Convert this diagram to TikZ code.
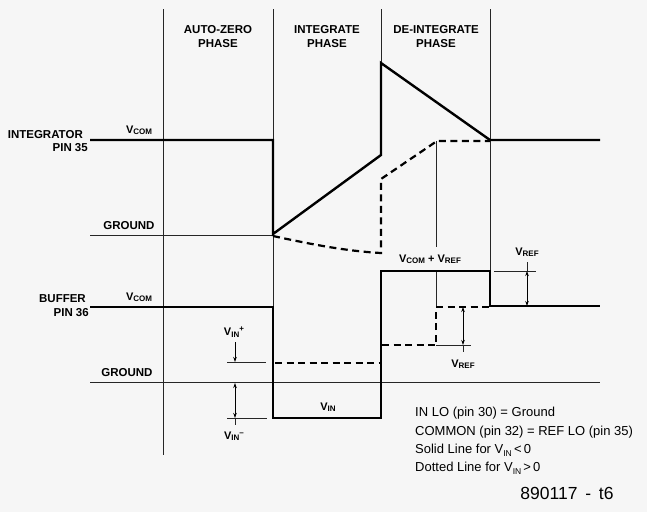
\documentclass[tikz,border=0pt]{standalone}
\usepackage{fontspec}
\setmainfont{Liberation Sans}
\usetikzlibrary{arrows.meta}
\definecolor{bg}{RGB}{246,246,246}
\newcommand{\lowcaps}[1]{\raisebox{-0.25ex}{\fontsize{8}{8}\selectfont #1}}
\newcommand{\notesub}[1]{\raisebox{-0.45ex}{\fontsize{8.5}{8.5}\selectfont #1}}
\begin{document}
\begin{tikzpicture}[x=1pt,y=-1pt,
  phaseline/.style={line width=0.8pt, black!85},
  wave/.style={line width=2.4pt, line join=miter},
  dashwave/.style={line width=2.2pt, dash pattern=on 7pt off 4.5pt},
  lbl/.style={font=\fontsize{11.5}{14}\selectfont\bfseries, inner sep=0pt},
  vlbl/.style={font=\fontsize{11}{13}\selectfont\bfseries, inner sep=0pt},
  note/.style={font=\fontsize{13}{15}\selectfont, inner sep=0pt, anchor=west},
  dimarrow/.style={line width=0.8pt, {Stealth[length=5pt,width=3.5pt]}-{Stealth[length=5pt,width=3.5pt]}},
  onearrow/.style={line width=0.8pt, -{Stealth[length=5pt,width=3.5pt]}},
]
\fill[bg] (0,0) rectangle (647,512);
\useasboundingbox (0,0) rectangle (647,512);

% phase lines
\draw[phaseline] (163,9) -- (163,455);
\draw[phaseline] (273,9) -- (273,418);
\draw[phaseline] (381,9) -- (381,63);
\draw[phaseline] (490,9) -- (490,271);
\draw[phaseline] (436,141) -- (436,247);
\draw[phaseline] (436,271) -- (436,307);

% phase labels
\node[lbl, align=center] (az) at (218,37) {AUTO-ZERO\\PHASE};
\node[lbl, align=center] (ip) at (327,37) {INTEGRATE\\PHASE};
\node[lbl, align=center] (dp) at (436,37) {DE-INTEGRATE\\PHASE};

% integrator
\node[lbl, anchor=east] (intl) at (83,135) {INTEGRATOR};
\node[lbl, anchor=east] (intp) at (88,148) {PIN 35};
\node[vlbl] (vcom1) at (139,130) {V\lowcaps{COM}};
\node[lbl] (gnd1) at (129,226) {GROUND};
\draw[phaseline] (90,235) -- (273,235);
\draw[wave] (90,140) -- (273,140) -- (273,234) -- (381,155) -- (381,63) -- (490,140) -- (600,140);
\draw[dashwave] (273,236) .. controls (310,244) and (345,251) .. (381,253) -- (381,179) -- (437,141) -- (490,141);

% buffer
\node[lbl, anchor=east] (bufl) at (86,299) {BUFFER};
\node[lbl, anchor=east] (bufp) at (89,313) {PIN 36};
\node[vlbl] (vcom2) at (139,297) {V\lowcaps{COM}};
\node[lbl] (gnd2) at (127,373) {GROUND};
\draw[phaseline] (90,382) -- (600,382);
\draw[wave] (90,307) -- (273,307) -- (273,418) -- (381,418) -- (381,271) -- (490,271) -- (490,306) -- (600,306);
\draw[dashwave] (275,363) -- (380,363);
\draw[dashwave] (382,345) -- (436,345) -- (436,307) -- (490,307);

% Vin+ dimension
\draw[phaseline] (227,362) -- (266,362);
\draw[onearrow] (235,342) -- (235,362);
\node[vlbl] (vinp) at (234,332) {V\lowcaps{IN}\raisebox{0.7ex}{\fontsize{8}{8}\selectfont +}};
% Vin- dimension
\draw[phaseline] (227,418) -- (267,418);
\draw[dimarrow] (235,383) -- (235,418);
\draw[phaseline] (235,418) -- (235,425);
\node[vlbl] (vinm) at (234,436) {V\lowcaps{IN}\raisebox{0.7ex}{\fontsize{8}{8}\selectfont --}};
\node[vlbl] (vin) at (328,407) {V\lowcaps{IN}};

% Vref labels
\node[vlbl] (vcr) at (430,259) {V\lowcaps{COM} + V\lowcaps{REF}};
\draw[phaseline] (494,271) -- (536,271);
\draw[phaseline] (527,262) -- (527,271);
\draw[dimarrow] (527,271) -- (527,306);
\node[vlbl] (vref1) at (527,252) {V\lowcaps{REF}};
\draw[phaseline] (436,345) -- (471,345);
\draw[dimarrow] (463,307) -- (463,345);
\draw[phaseline] (463,345) -- (463,352);
\node[vlbl] (vref2) at (463,364) {V\lowcaps{REF}};

% notes
\node[note] (n1) at (415,413) {IN LO (pin 30) = Ground};
\node[note] (n2) at (415,432) {COMMON (pin 32) = REF LO (pin 35)};
\node[note] (n3) at (415,450) {Solid Line for V\notesub{IN}\,<\,0};
\node[note] (n4) at (415,468) {Dotted Line for V\notesub{IN}\,>\,0};
\node[font=\fontsize{17.5}{19}\selectfont, inner sep=0pt] (fig) at (567,493) {890117 \,-\, t6};
\end{tikzpicture}
\end{document}
